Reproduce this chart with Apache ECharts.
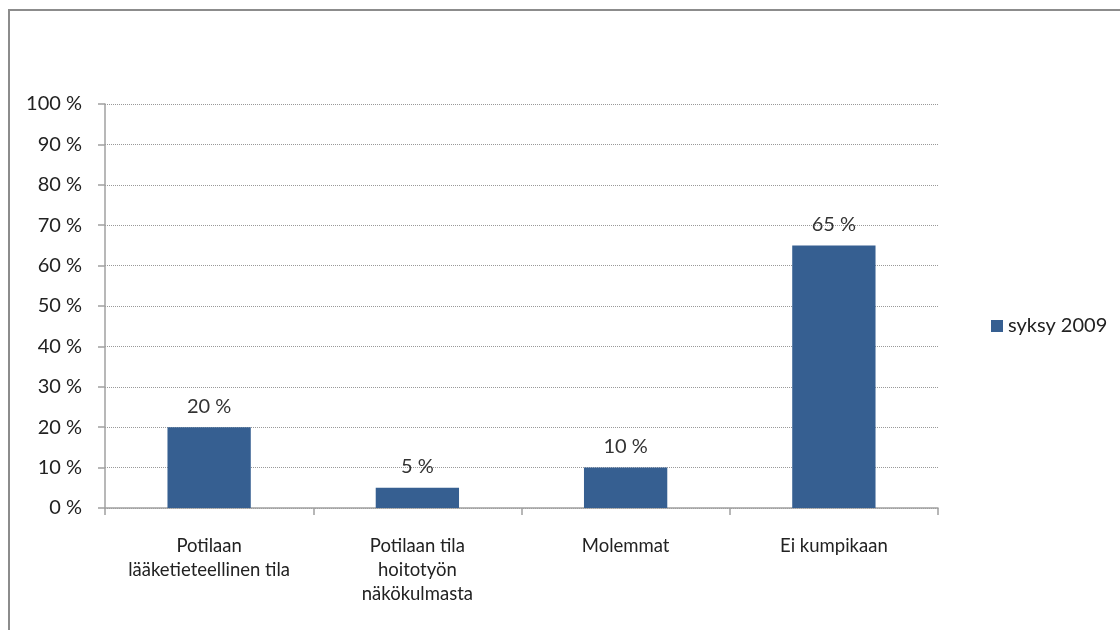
<!DOCTYPE html>
<html>
<head>
<meta charset="utf-8">
<script src="https://cdn.jsdelivr.net/npm/echarts@6/dist/echarts.min.js"></script>
<style>
html,body{margin:0;padding:0;background:#fff;}
#chart{width:1120px;height:630px;}
</style>
</head>
<body>
<div id="chart"></div>
<script>
const categories = [
  "Potilaan\nlääketieteellinen tila",
  "Potilaan tila\nhoitotyön\nnäkökulmasta",
  "Molemmat",
  "Ei kumpikaan"
];
const seriesName = "syksy 2009";
const values = [20, 5, 10, 65];
const yTicks = [0, 10, 20, 30, 40, 50, 60, 70, 80, 90, 100];

const FONT = 'Lato, "Open Sans", sans-serif';
const chart = echarts.init(document.getElementById('chart'));
chart.setOption({
  animation: false,
  backgroundColor: '#fff',
  textStyle: { fontFamily: FONT },
  graphic: [{
    type: 'polyline',
    shape: { points: [[9, 640], [9, 10], [1130, 10]] },
    style: { stroke: '#8c8c8c', lineWidth: 2, fill: null }
  }],
  grid: { left: 105, right: 182, top: 104, bottom: 122, containLabel: false },
  legend: {
    data: [seriesName],
    left: 986, top: 311,
    icon: 'rect', itemWidth: 12, itemHeight: 12,
    textStyle: { fontFamily: FONT, fontSize: 20, color: '#222' }
  },
  xAxis: {
    type: 'category',
    data: categories,
    axisLine: { lineStyle: { color: '#a0a0a0', width: 1.5 } },
    axisTick: { show: true, length: 7, alignWithLabel: false, lineStyle: { color: '#a0a0a0', width: 1.5 } },
    axisLabel: { fontFamily: FONT, fontSize: 18.5, color: '#222', margin: 26, lineHeight: 24, interval: 0 }
  },
  yAxis: {
    type: 'value',
    min: yTicks[0], max: yTicks[yTicks.length - 1], interval: 10,
    axisLine: { show: true, lineStyle: { color: '#a0a0a0', width: 1.5 } },
    axisTick: { show: true, length: 7, lineStyle: { color: '#a0a0a0', width: 1.5 } },
    splitLine: { show: true, lineStyle: { color: '#999', type: 'dotted', width: 1 } },
    axisLabel: { fontFamily: FONT, fontSize: 20, color: '#222', margin: 23, formatter: '{value} %' }
  },
  series: [{
    name: seriesName,
    type: 'bar',
    data: values,
    barWidth: '40%',
    itemStyle: { color: '#365F91' },
    label: {
      show: true, position: 'top', distance: 11,
      fontFamily: FONT, fontSize: 20, color: '#333',
      formatter: '{c} %'
    }
  }]
});
</script>
</body>
</html>
